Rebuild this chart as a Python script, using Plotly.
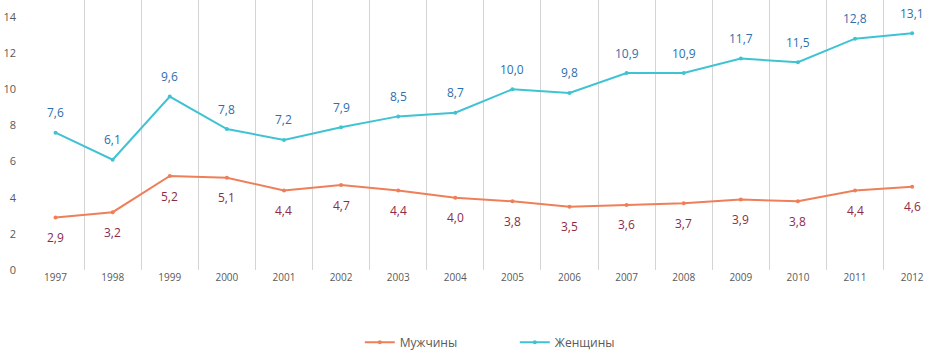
import plotly.graph_objects as go

years = [str(y) for y in range(1997, 2013)]
male = [2.9, 3.2, 5.2, 5.1, 4.4, 4.7, 4.4, 4.0, 3.8, 3.5, 3.6, 3.7, 3.9, 3.8, 4.4, 4.6]
female = [7.6, 6.1, 9.6, 7.8, 7.2, 7.9, 8.5, 8.7, 10.0, 9.8, 10.9, 10.9, 11.7, 11.5, 12.8, 13.1]
names = ["Мужчины", "Женщины"]
y_ticks = [0, 2, 4, 6, 8, 10, 12, 14]

male_line = "#EE7F59"
female_line = "#3FC3D2"
male_text = "#8E2C48"
female_text = "#2E6FAD"
font_family = "Open Sans, Noto Sans, sans-serif"

fig = go.Figure()
fig.add_trace(go.Scatter(x=years, y=male, name=names[0], mode="lines+markers",
                         line=dict(color=male_line, width=2),
                         marker=dict(size=4, color=male_line)))
fig.add_trace(go.Scatter(x=years, y=female, name=names[1], mode="lines+markers",
                         line=dict(color=female_line, width=2),
                         marker=dict(size=4, color=female_line)))

annotations = []
for i, v in enumerate(female):
    annotations.append(dict(x=i, y=v, xref="x", yref="y", text=f"{v:.1f}".replace(".", ","),
                            showarrow=False, yshift=20,
                            font=dict(size=12, color=female_text, family=font_family)))
for i, v in enumerate(male):
    annotations.append(dict(x=i, y=v, xref="x", yref="y", text=f"{v:.1f}".replace(".", ","),
                            showarrow=False, yshift=-20,
                            font=dict(size=12, color=male_text, family=font_family)))

fig.update_layout(
    width=927, height=351,
    margin=dict(l=26.5, r=0, t=0, b=81),
    plot_bgcolor="white", paper_bgcolor="white",
    font=dict(family=font_family, color="#595959"),
    annotations=annotations,
    showlegend=True,
    legend=dict(orientation="h", x=0.542, xanchor="center",
                yref="container", y=0.025, yanchor="middle",
                font=dict(size=12, color="#595959"), entrywidth=110, traceorder="normal"),
    xaxis=dict(type="category", range=[-0.5, 15.26], tickson="boundaries",
               showgrid=True, gridcolor="#D4D4D4", gridwidth=1, automargin=False,
               showline=False, zeroline=False, ticks="",
               tickfont=dict(size=10, color="#595959")),
    yaxis=dict(range=[0, 14.94], tickvals=y_ticks, showgrid=False, zeroline=False,
               showline=False, ticklabelstandoff=10, automargin=False,
               tickfont=dict(size=11, color="#595959")),
)

fig.write_html("out.html", config={"displayModeBar": False},
               post_script="document.body.style.margin='0';")
